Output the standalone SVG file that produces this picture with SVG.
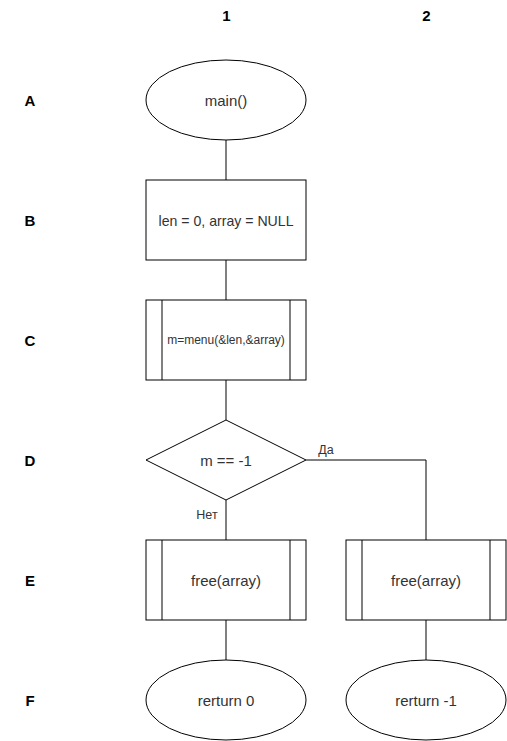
<svg xmlns="http://www.w3.org/2000/svg" width="507" height="741" viewBox="0 0 507 741">
<style>
.s{fill:#fff;stroke:#000;stroke-width:1}
.c{fill:none;stroke:#000;stroke-width:1}
.t{font-family:"Liberation Sans",Arial,sans-serif;font-size:15px;fill:#333;text-anchor:middle;dominant-baseline:central}
.h{font-family:"Liberation Sans",Arial,sans-serif;font-size:15px;font-weight:bold;fill:#000;text-anchor:middle;dominant-baseline:central}
.l{font-family:"Liberation Sans",Arial,sans-serif;font-size:12.5px;fill:#333;text-anchor:middle;dominant-baseline:central}
</style>
<rect width="507" height="741" fill="#fff"/>
<g id="headers">
<text class="h" x="226.5" y="15.5">1</text>
<text class="h" x="426.5" y="15.5">2</text>
<text class="h" x="30" y="100">A</text>
<text class="h" x="30" y="220">B</text>
<text class="h" x="30" y="340">C</text>
<text class="h" x="30" y="460">D</text>
<text class="h" x="30" y="580">E</text>
<text class="h" x="30" y="700">F</text>
</g>
<g id="connectors">
<path class="c" d="M226 140V180"/>
<path class="c" d="M226 260V300"/>
<path class="c" d="M226 380V420"/>
<path class="c" d="M226 500V540"/>
<path class="c" d="M306 460H426V540"/>
<path class="c" d="M226 620V660"/>
<path class="c" d="M426 620V660"/>
<text class="l" x="326" y="450">Да</text>
<text class="l" x="207" y="514.5">Нет</text>
</g>
<g id="A1"><ellipse class="s" cx="226" cy="100" rx="80" ry="40"/><text class="t" x="226" y="100">main()</text></g>
<g id="B1"><rect class="s" x="146" y="180" width="160" height="80"/><text class="t" x="226" y="220" textLength="135" lengthAdjust="spacingAndGlyphs">len = 0, array = NULL</text></g>
<g id="C1"><rect class="s" x="146" y="300" width="160" height="80"/><path class="c" d="M162 300V380M290 300V380"/><text class="t" x="226" y="340" style="font-size:12px">m=menu(&amp;len,&amp;array)</text></g>
<g id="D1"><path class="s" d="M226 420L306 460L226 500L146 460Z"/><text class="t" x="226" y="460">m == -1</text></g>
<g id="E1"><rect class="s" x="146" y="540" width="160" height="80"/><path class="c" d="M162 540V620M290 540V620"/><text class="t" x="226" y="580">free(array)</text></g>
<g id="E2"><rect class="s" x="346" y="540" width="160" height="80"/><path class="c" d="M362 540V620M490 540V620"/><text class="t" x="426" y="580">free(array)</text></g>
<g id="F1"><ellipse class="s" cx="226" cy="700" rx="80" ry="40"/><text class="t" x="226" y="700">rerturn 0</text></g>
<g id="F2"><ellipse class="s" cx="426" cy="700" rx="80" ry="40"/><text class="t" x="426" y="700">rerturn -1</text></g>
</svg>
